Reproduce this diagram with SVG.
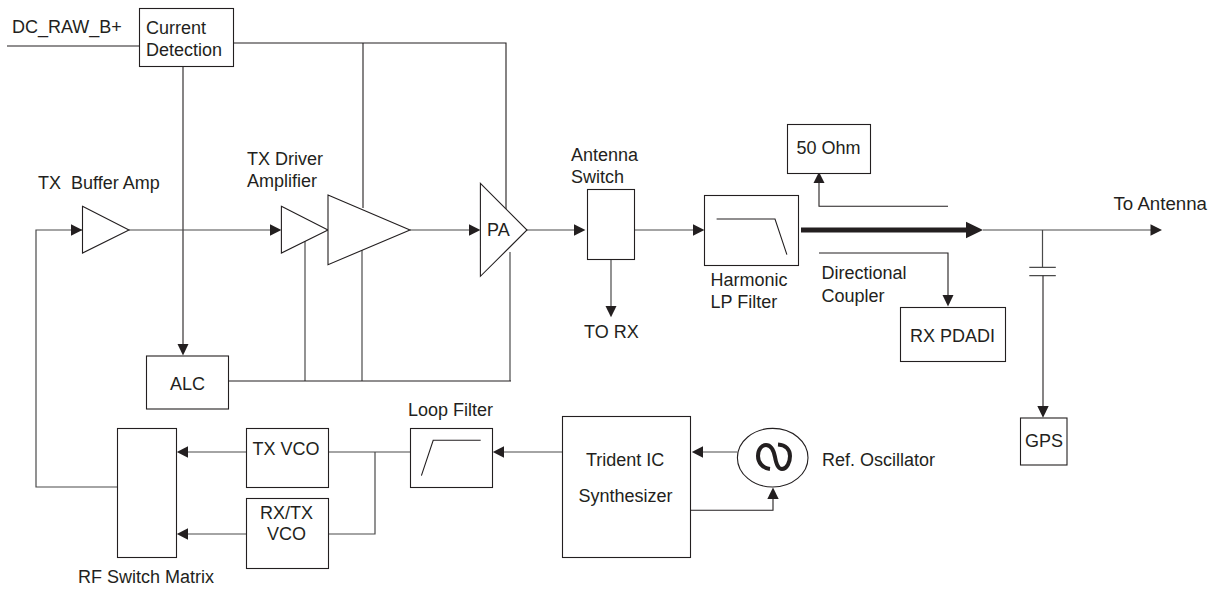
<svg xmlns="http://www.w3.org/2000/svg" width="1220" height="590" viewBox="0 0 1220 590">
<style>
text{font-family:"Liberation Sans",Arial,sans-serif;font-size:18px;fill:#231f20;white-space:pre}
.b{fill:#fff;stroke:#231f20;stroke-width:1.1}
.l{fill:none;stroke:#231f20;stroke-width:1.1}
.g{fill:none;stroke:#4a4a4a;stroke-width:1.2}
.a{fill:#231f20;stroke:none}
</style>
<rect width="1220" height="590" fill="#fff"/>
<g id="connectors">
<path class="l" d="M7 46H139"/>
<path class="l" d="M233 43H506V209"/>
<path class="l" d="M363 43V208"/>
<path class="l" d="M183 67V344"/><path class="a" d="M177.500 344H188.500L183 355.500Z"/>
<path class="g" d="M129 230H270"/><path class="a" d="M270 224.300L281.400 230L270 235.700Z"/>
<path class="g" d="M82 230H36V487H118"/><path class="a" d="M71 224.300L82.400 230L71 235.700Z"/>
<path class="g" d="M410 230H469"/><path class="a" d="M469 224.300L480.400 230L469 235.700Z"/>
<path class="g" d="M527 230H574"/><path class="a" d="M574 224.300L585.400 230L574 235.700Z"/>
<path class="g" d="M634.500 230H693"/><path class="a" d="M693 224.300L704.400 230L693 235.700Z"/>
<path class="g" d="M305 241V381"/>
<path class="g" d="M362 249V381"/>
<path class="g" d="M510 252V381"/>
<path class="l" d="M228.600 381H511"/>
<path class="g" d="M246.400 452H188"/><path class="a" d="M188 446.300L176.800 452L188 457.700Z"/>
<path class="g" d="M246.400 534H188"/><path class="a" d="M188 528.300L176.800 534L188 539.700Z"/>
<path class="g" d="M328 452H410"/>
<path class="g" d="M375 452V534H328"/>
<path class="g" d="M562 452H504"/><path class="a" d="M504 446.300L492.800 452L504 457.700Z"/>
<path class="g" d="M737 452H703"/><path class="a" d="M703 446.300L691.800 452L703 457.700Z"/>
<path class="l" d="M691 510.300H773V499"/><path class="a" d="M767.300 499H778.700L773 487.500Z"/>
<path class="g" d="M611 260V306"/><path class="a" d="M605.500 306H616.500L611 317.300Z"/>
<path class="a" d="M801 227.500H966V221.700L983 230L966 238.300V232.500H801Z"/>
<path class="g" d="M983 230H1151"/><path class="a" d="M1150.500 224.300L1162 230L1150.500 235.700Z"/>
<path class="l" d="M948 206.300H819V183"/><path class="a" d="M813.500 183H824.500L819 172Z"/>
<path class="l" d="M819 253H948V295"/><path class="a" d="M942.500 295H953.500L948 306.500Z"/>
<path class="g" d="M1042.500 230V267.300M1029.300 267.300H1055.800M1029.300 275.700H1055.800"/>
<path class="l" d="M1043 275.700V406"/><path class="a" d="M1037.300 406H1048.700L1043 417.700Z"/>
</g>
<g id="current-detection"><rect class="b" x="139.500" y="8.500" width="94" height="58"/><text x="146" y="34">Current</text><text x="146" y="56">Detection</text></g>
<text x="12" y="33">DC_RAW_B+</text>
<text x="38" y="189">TX  Buffer Amp</text>
<g id="buffer-amp"><path class="b" d="M82.500 206.300L129 230L82.500 253Z"/></g>
<text x="247" y="165">TX Driver</text><text x="247" y="187">Amplifier</text>
<g id="driver-1"><path class="b" d="M281.400 206.300L328 230L281.400 253Z"/></g>
<g id="driver-2"><path class="b" d="M328 195L410 230L328 264.700Z"/></g>
<g id="pa"><path class="b" d="M480.400 183.300L527 230L480.400 276.300Z"/><text x="487" y="236">PA</text></g>
<text x="571" y="161">Antenna</text><text x="571" y="183">Switch</text>
<g id="antenna-switch"><rect class="b" x="587.500" y="189.500" width="47" height="70"/></g>
<text x="584" y="338">TO RX</text>
<g id="lp-filter"><rect class="b" x="704.500" y="195.500" width="94" height="70"/><path class="l" d="M716.600 219H775L786.900 254.700"/></g>
<text x="710.500" y="286">Harmonic</text><text x="710.500" y="308">LP Filter</text>
<g id="ohm"><rect class="b" x="787.500" y="124.500" width="83" height="49"/><text x="796.500" y="154">50 Ohm</text></g>
<text x="821.500" y="279">Directional</text><text x="821.500" y="302">Coupler</text>
<g id="rx-pdadi"><rect class="b" x="900.500" y="307.500" width="105" height="54"/><text x="910" y="342">RX PDADI</text></g>
<text x="1113.500" y="210" style="font-size:18.700px">To Antenna</text>
<g id="gps"><rect class="b" x="1020.500" y="418" width="46.500" height="47"/><text x="1025" y="447">GPS</text></g>
<g id="alc"><rect class="b" x="146.500" y="356" width="82" height="53"/><text x="170" y="390">ALC</text></g>
<g id="rf-switch"><rect class="b" x="117.500" y="428.500" width="59" height="129"/></g>
<text x="78" y="583">RF Switch Matrix</text>
<g id="tx-vco"><rect class="b" x="246.500" y="428.500" width="82" height="59"/><text x="252.500" y="455">TX VCO</text></g>
<g id="rxtx-vco"><rect class="b" x="246.500" y="498.500" width="82" height="70"/><text x="260" y="519">RX/TX</text><text x="267" y="540">VCO</text></g>
<text x="408" y="416">Loop Filter</text>
<g id="loop-filter"><rect class="b" x="410.500" y="428.500" width="82" height="59"/><path class="l" d="M421.400 475.700L433.200 440.300H480.700"/></g>
<g id="synth"><rect class="b" x="562.500" y="416.500" width="128" height="141"/><text x="586" y="466">Trident IC</text><text x="578.500" y="502">Synthesizer</text></g>
<g id="ref-osc"><ellipse class="b" cx="772.700" cy="457.700" rx="35.300" ry="29.300"/><path d="M770 469C762 468 758 462 758 456C758 449 762 445 766 445C772 445 774 452 775 457C776 463 778 469 782 469C787 469 790 462 790 456C790 450 786 445 778 444.500" fill="none" stroke="#231f20" stroke-width="4"/></g>
<text x="822" y="466">Ref. Oscillator</text>
</svg>
